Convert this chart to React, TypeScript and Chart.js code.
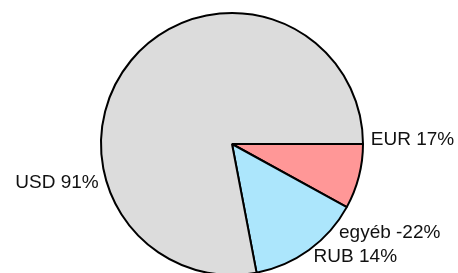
import React, { useEffect, useRef } from "react";
import { Chart, registerables } from "chart.js";

Chart.register(...registerables);

// ---- data ----
const categories = ["USD", "EUR", "RUB", "egyéb"];
const shares = [91, 17, 14, -22];
const pctLabels = ["91%", "17%", "14%", "-22%"];
const sliceColors = ["#DCDCDC", "#FF9797", "#ACE6FC", "#FFFFFF"];

// cumulative boundaries (fractions of a turn, clockwise from 3 o'clock)
const total = shares.reduce((a, b) => a + b, 0);
const cum: number[] = [0];
shares.forEach((v, i) => cum.push(cum[i] + v / total));

// visible wedge of each slice (part lying in its last turn), painted in order
function visibleSegments() {
  const eps = 1e-9;
  const vis: ({ s: number; e: number } | null)[] = shares.map((v, i) => {
    const s = cum[i];
    const e = cum[i + 1];
    if (e <= s) return null;
    const k = Math.floor(e - eps);
    return { s: Math.max(s, k) - k, e: e - k };
  });
  const pts = new Set<number>([0, 1]);
  vis.forEach((w) => {
    if (w) {
      pts.add(+w.s.toFixed(9));
      pts.add(+w.e.toFixed(9));
    }
  });
  const sorted = Array.from(pts).sort((a, b) => a - b);
  const segs: { owner: number; span: number }[] = [];
  for (let j = 0; j < sorted.length - 1; j++) {
    const a = sorted[j];
    const b = sorted[j + 1];
    if (b - a < eps) continue;
    const m = (a + b) / 2;
    let owner = 0;
    vis.forEach((w, i) => {
      if (w && m > w.s && m < w.e) owner = i;
    });
    const last = segs[segs.length - 1];
    if (last && last.owner === owner) last.span += b - a;
    else segs.push({ owner, span: b - a });
  }
  return segs;
}

const W = 458;
const H = 273;
const CH = 288;

export default function App() {
  const ref = useRef<HTMLCanvasElement | null>(null);

  useEffect(() => {
    if (!ref.current) return;
    const segs = visibleSegments();
    const labelPlugin = {
      id: "sliceLabels",
      afterDraw(chart: any) {
        const meta = chart.getDatasetMeta(0);
        const arc = meta.data[0];
        if (!arc) return;
        const cx = arc.x;
        const cy = arc.y;
        const r = arc.outerRadius;
        const ctx = chart.ctx;
        ctx.save();
        ctx.font = '19px "Liberation Sans", Arial, sans-serif';
        ctx.fillStyle = "#111";
        ctx.textBaseline = "middle";
        categories.forEach((c, i) => {
          const mid = ((cum[i] + cum[i + 1]) / 2) * Math.PI * 2;
          const x = cx + Math.cos(mid) * r * 1.06;
          const y = cy + Math.sin(mid) * r * 1.06;
          ctx.textAlign = Math.cos(mid) < 0 ? "right" : "left";
          ctx.fillText(c + " " + pctLabels[i], x, y);
        });
        ctx.restore();
      },
    };
    const chart = new Chart(ref.current, {
      type: "pie",
      data: {
        labels: segs.map((s) => categories[s.owner]),
        datasets: [
          {
            data: segs.map((s) => s.span * 100),
            backgroundColor: segs.map((s) => sliceColors[s.owner]),
            borderColor: "#000",
            borderWidth: 2,
          },
        ],
      },
      options: {
        responsive: false,
        animation: false,
        devicePixelRatio: 1,
        rotation: 90,
        radius: 131,
        layout: { padding: { left: 6, right: 0, top: 0, bottom: 0 } },
        plugins: {
          legend: { display: false },
          tooltip: { enabled: false },
        },
      },
      plugins: [labelPlugin],
    });
    return () => chart.destroy();
  }, []);

  return (
    <div
      style={{
        position: "absolute",
        left: 0,
        top: 0,
        width: W,
        height: H,
        overflow: "hidden",
        background: "#fff",
      }}
    >
      <canvas ref={ref} width={W} height={CH} style={{ display: "block" }} />
    </div>
  );
}
